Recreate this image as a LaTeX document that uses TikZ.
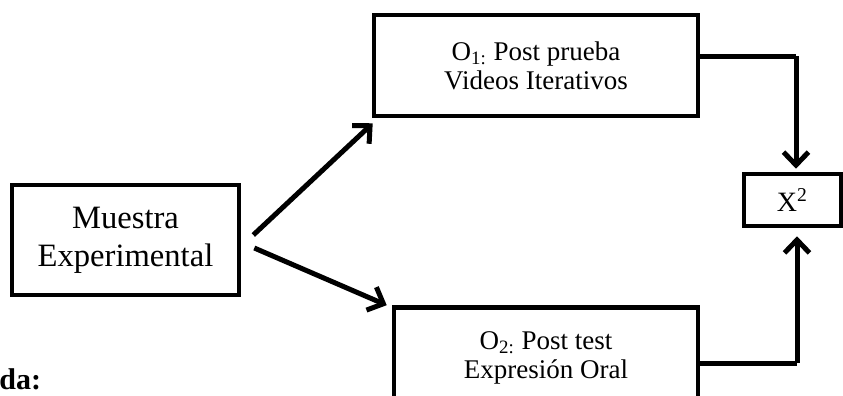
\documentclass[tikz,border=0pt]{standalone}
\usepackage{fontspec}
\setmainfont{Liberation Serif}
\usetikzlibrary{arrows.meta}
\usetikzlibrary{calc}

\tikzset{
  caja/.style={draw, line width=2.3pt, align=center, inner sep=0pt},
  flecha/.style={line width=2.5pt, -{Straight Barb[length=6.5pt,width=12.5pt,line width=2.5pt]}},
  linea/.style={line width=2.5pt}
}

\begin{document}
\begin{tikzpicture}[x=0.5pt, y=-0.5pt]

% Marco del dibujo
\useasboundingbox (0,0) rectangle (843,396);
\clip (0,0) rectangle (843,396);

% Cajas
\node[caja, minimum width=113.5pt, minimum height=55pt, font=\fontsize{16.3}{19}\selectfont] (muestra) at (125.5,240) {Muestra\\Experimental};
\node[caja, minimum width=162pt, minimum height=50.5pt, font=\fontsize{13.5}{14.5}\selectfont] (o1) at (536,65.5) {O\textsubscript{1:} Post prueba\\Videos Iterativos};
\node[caja, minimum width=152pt, minimum height=50.5pt, font=\fontsize{13.5}{14.5}\selectfont] (o2) at (546,358) {O\textsubscript{2:} Post test\\Expresión Oral};
\node[caja, minimum width=48.5pt, minimum height=26pt, font=\fontsize{14}{14}\selectfont] (chi) at (792.5,200) {X\textsuperscript{2}};

% Texto cortado abajo
\node[anchor=base west, inner sep=0pt, font=\fontsize{15}{15}\selectfont\bfseries] (leyenda) at (-1,389) {da:};

% Flechas desde la muestra
\draw[flecha] ($(muestra.east)+(12,-5)$) -- ($(o1.south west)+(1,5)$);
\draw[flecha] ($(muestra.east)+(13,8)$) -- ($(o2.north west)+(-5,0)$);

% Conectores hacia X^2
\coordinate (c1) at (796,56);
\coordinate (c2) at (797,363);
\draw[linea] (o1.east |- c1) -- (c1);
\draw[flecha] (c1) -- ($(c1 |- chi.north)+(0,-3)$);
\draw[linea] (o2.east |- c2) -- (c2);
\draw[flecha] (c2) -- ($(c2 |- chi.south)+(0,8)$);

\end{tikzpicture}
\end{document}
